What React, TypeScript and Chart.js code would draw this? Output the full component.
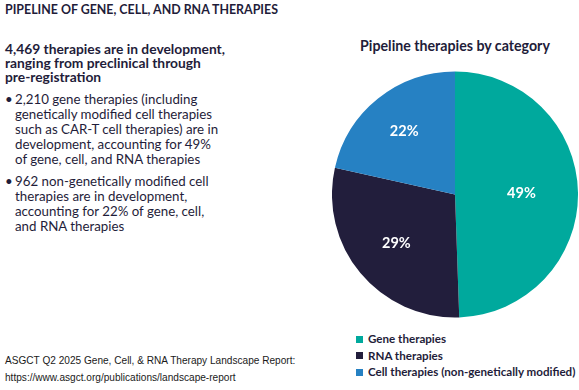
import React, { useEffect, useRef } from "react";
import { Chart, registerables } from "chart.js";

Chart.register(...registerables);

const pageTitle = "PIPELINE OF GENE, CELL, AND RNA THERAPIES";
const headlineLines = [
  "4,469 therapies are in development,",
  "ranging from preclinical through",
  "pre-registration",
];
const bulletLines = [
  [
    "2,210 gene therapies (including",
    "genetically modified cell therapies",
    "such as CAR-T cell therapies) are in",
    "development, accounting for 49%",
    "of gene, cell, and RNA therapies",
  ],
  [
    "962 non-genetically modified cell",
    "therapies are in development,",
    "accounting for 22% of gene, cell,",
    "and RNA therapies",
  ],
];
const sourceLines = [
  "ASGCT Q2 2025 Gene, Cell, & RNA Therapy Landscape Report:",
  "https://www.asgct.org/publications/landscape-report",
];
const chartTitle = "Pipeline therapies by category";
const categories = ["Gene therapies", "RNA therapies", "Cell therapies (non-genetically modified)"];
const counts = [2210, 1297, 962];
const colors = ["#00A99D", "#221E3C", "#2681C3"];
const labelRadiusFrac = [0.54, 0.62, 0.66];

const TEXT = "#1F1D3A";
const FONT = "Lato, 'Open Sans', sans-serif";

const labelPlugin = {
  id: "pctLabels",
  afterDatasetsDraw(chart: any) {
    const ctx = chart.ctx;
    const meta = chart.getDatasetMeta(0);
    const data = chart.data.datasets[0].data as number[];
    const total = data.reduce((a, b) => a + b, 0);
    ctx.save();
    ctx.fillStyle = "#FFFFFF";
    ctx.font = `bold 14.5px ${FONT}`;
    ctx.textAlign = "center";
    ctx.textBaseline = "middle";
    meta.data.forEach((arc: any, i: number) => {
      const p = arc.getProps(["x", "y", "startAngle", "endAngle", "outerRadius"], true);
      const mid = (p.startAngle + p.endAngle) / 2;
      const r = p.outerRadius * labelRadiusFrac[i];
      ctx.fillText(
        Math.round((data[i] / total) * 100) + "%",
        p.x + Math.cos(mid) * r,
        p.y + Math.sin(mid) * r
      );
    });
    ctx.restore();
  },
};

export default function App() {
  const ref = useRef<HTMLCanvasElement | null>(null);
  useEffect(() => {
    if (!ref.current) return;
    const chart = new Chart(ref.current, {
      type: "pie",
      data: {
        labels: categories,
        datasets: [
          {
            data: counts,
            backgroundColor: colors,
            borderWidth: 0,
          },
        ],
      },
      options: {
        responsive: false,
        animation: false,
        layout: { padding: 0 },
        plugins: {
          legend: { display: false },
          tooltip: { enabled: false },
          title: { display: false },
        },
      },
      plugins: [labelPlugin],
    });
    return () => chart.destroy();
  }, []);

  return (
    <div
      style={{
        position: "absolute",
        left: 0,
        top: 0,
        width: 579,
        height: 390,
        background: "#FFFFFF",
        color: TEXT,
        fontFamily: FONT,
        overflow: "hidden",
        whiteSpace: "nowrap",
      }}
    >
      <div style={{ position: "absolute", left: 5, top: 2, fontSize: 12.4, fontWeight: 700, lineHeight: "16px" }}>
        {pageTitle}
      </div>
      <div style={{ position: "absolute", left: 5, top: 42, fontSize: 13.8, fontWeight: 700, lineHeight: "14px" }}>
        {headlineLines.map((l, i) => (
          <div key={i}>{l}</div>
        ))}
      </div>
      <div style={{ position: "absolute", left: 5, top: 92, fontSize: 13.3, lineHeight: "15px" }}>
        {bulletLines.map((lines, i) => (
          <div key={i} style={{ position: "relative", paddingLeft: 10, marginBottom: 7 }}>
            <span style={{ position: "absolute", left: 0, top: 0 }}>•</span>
            {lines.map((l, j) => (
              <div key={j}>{l}</div>
            ))}
          </div>
        ))}
      </div>
      <div style={{ position: "absolute", left: 5, top: 352, fontSize: 10.1, lineHeight: "17px", fontFamily: "'Liberation Sans', Arial, sans-serif", color: "#1A1A1A" }}>
        {sourceLines.map((s, i) => (
          <div key={i}>{s}</div>
        ))}
      </div>
      <div style={{ position: "absolute", left: 300, width: 310, top: 37, textAlign: "center", fontSize: 14.2, fontWeight: 700, lineHeight: "18px" }}>
        {chartTitle}
      </div>
      <canvas ref={ref} width={246} height={247} style={{ position: "absolute", left: 332, top: 71, display: "block" }} />
      <div style={{ position: "absolute", left: 356, top: 331, fontSize: 11.6, fontWeight: 700, lineHeight: "16.5px" }}>
        {categories.map((c, i) => (
          <div key={i} style={{ display: "flex", alignItems: "center" }}>
            <span style={{ display: "inline-block", width: 7, height: 7, background: colors[i], marginRight: 5 }} />
            {c}
          </div>
        ))}
      </div>
    </div>
  );
}
